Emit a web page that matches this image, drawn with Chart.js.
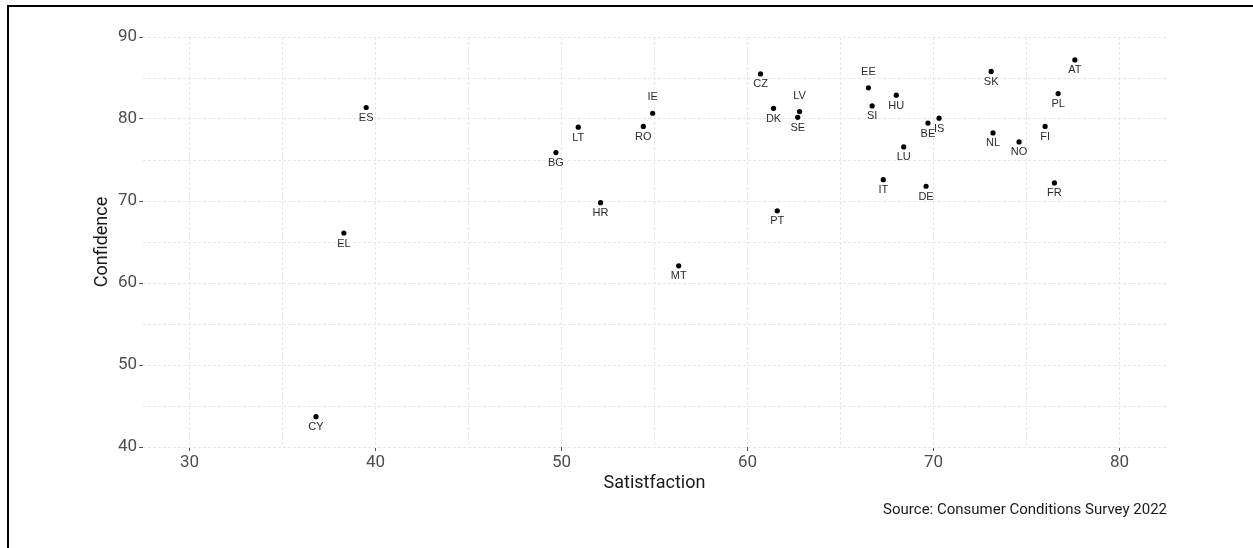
<!DOCTYPE html>
<html>
<head>
<meta charset="utf-8">
<script src="https://cdn.jsdelivr.net/npm/chart.js@4/dist/chart.umd.min.js"></script>
<style>
  html, body { margin: 0; padding: 0; background: #ffffff; }
  #wrap { position: relative; width: 1253px; height: 548px; overflow: hidden; background: #fff; }
  #c { position: absolute; left: 0; top: 0; }
  #frame { position: absolute; left: 7px; top: 5px; right: -10px; bottom: -10px;
           border-top: 2px solid #000; border-left: 2px solid #000; pointer-events: none; }
</style>
</head>
<body>
<div id="wrap">
  <canvas id="c" width="1253" height="548"></canvas>
  <div id="frame"></div>
</div>
<script>
// ---- data ----
const countries = ['CY','EL','ES','BG','LT','HR','RO','IE','MT','CZ','DK','PT','LV','SE','EE','SI','IT','HU','LU','BE','DE','IS','SK','NL','NO','FI','AT','PL','FR'];
const satisfaction = [36.8,38.3,39.5,49.7,50.9,52.1,54.4,54.9,56.3,60.7,61.4,61.6,62.8,62.7,66.5,66.7,67.3,68.0,68.4,69.7,69.6,70.3,73.1,73.2,74.6,76.0,77.6,76.7,76.5];
const confidence   = [43.7,66.1,81.4,75.9,79.0,69.8,79.1,80.7,62.1,85.5,81.3,68.8,80.9,80.2,83.8,81.6,72.6,82.9,76.6,79.5,71.8,80.1,85.8,78.3,77.2,79.1,87.2,83.1,72.2];
const xTickLabels = [30,40,50,60,70,80];
const yTickLabels = [40,50,60,70,80,90];
const xGridValues = [30,35,40,45,50,55,60,65,70,75,80];
const yGridValues = [40,45,50,55,60,65,70,75,80,85,90];
const xTitle = 'Satistfaction';
const yTitle = 'Confidence';
const caption = 'Source: Consumer Conditions Survey 2022';

// ---- styling helpers ----
const labelsAbove = new Set(['IE','LV','EE']);
const tickFont = { family: 'Roboto', size: 17 };
const titleFont = { family: 'Roboto', size: 18 };

const points = satisfaction.map((x, i) => ({ x: x, y: confidence[i], code: countries[i] }));

const pointLabelPlugin = {
  id: 'pointLabels',
  afterDatasetsDraw(chart) {
    const ctx = chart.ctx;
    const meta = chart.getDatasetMeta(0);
    ctx.save();
    ctx.font = '11px "Liberation Sans", Arial, sans-serif';
    ctx.fillStyle = '#2b2b2b';
    ctx.textAlign = 'center';
    ctx.textBaseline = 'middle';
    meta.data.forEach((el, i) => {
      const code = countries[i];
      const dy = labelsAbove.has(code) ? -16 : 10.5;
      ctx.fillText(code, el.x, el.y + dy);
    });
    ctx.restore();
  }
};

const captionPlugin = {
  id: 'caption',
  afterDraw(chart) {
    const ctx = chart.ctx;
    ctx.save();
    ctx.font = '15px Roboto';
    ctx.fillStyle = '#1a1a1a';
    ctx.textAlign = 'right';
    ctx.textBaseline = 'alphabetic';
    ctx.fillText(caption, chart.chartArea.right + 1, 514);
    ctx.restore();
  }
};

const gridColor = '#e6e8e6';

new Chart(document.getElementById('c'), {
  type: 'scatter',
  data: {
    datasets: [{
      data: points,
      backgroundColor: '#000000',
      borderWidth: 0,
      pointRadius: 2.6,
      pointHoverRadius: 2.6
    }]
  },
  options: {
    responsive: false,
    animation: false,
    events: [],
    layout: { padding: { top: 37, right: 87, bottom: 0, left: 0 } },
    plugins: { legend: { display: false }, tooltip: { enabled: false }, title: { display: false } },
    scales: {
      x: {
        type: 'linear',
        min: 27.5,
        max: 82.5,
        afterBuildTicks(scale) { scale.ticks = xGridValues.map(v => ({ value: v })); },
        afterFit(scale) { scale.height = 101; },
        border: { display: false, dash: [3, 2] },
        grid: {
          color: gridColor,
          lineWidth: 1,
          drawTicks: true,
          tickLength: 4,
          tickColor: (c) => (c.tick && xTickLabels.includes(c.tick.value)) ? '#555555' : 'rgba(0,0,0,0)',
          tickBorderDash: []
        },
        ticks: {
          autoSkip: false,
          maxRotation: 0,
          padding: 2,
          color: '#4d4d4d',
          font: tickFont,
          callback: (v) => xTickLabels.includes(v) ? String(v) : ''
        },
        title: {
          display: true,
          text: xTitle,
          color: '#1a1a1a',
          font: titleFont,
          padding: { top: 0, bottom: 54 }
        }
      },
      y: {
        type: 'linear',
        min: 40,
        max: 90,
        afterBuildTicks(scale) { scale.ticks = yGridValues.map(v => ({ value: v })); },
        afterFit(scale) { scale.width = 143; },
        border: { display: false, dash: [3, 2] },
        grid: {
          color: gridColor,
          lineWidth: 1,
          drawTicks: true,
          tickLength: 4,
          tickColor: (c) => (c.tick && yTickLabels.includes(c.tick.value)) ? '#555555' : 'rgba(0,0,0,0)',
          tickBorderDash: []
        },
        ticks: {
          autoSkip: false,
          padding: 2,
          color: '#4d4d4d',
          font: tickFont,
          callback: (v) => yTickLabels.includes(v) ? String(v) : ''
        },
        title: {
          display: true,
          text: yTitle,
          color: '#1a1a1a',
          font: titleFont,
          padding: { top: 92, bottom: 0 }
        }
      }
    }
  },
  plugins: [pointLabelPlugin, captionPlugin]
});
</script>
</body>
</html>
